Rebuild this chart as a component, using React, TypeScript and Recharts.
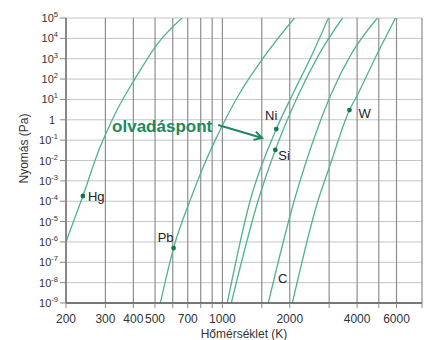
import React from 'react';
import {
  ComposedChart,
  Line,
  Scatter,
  XAxis,
  YAxis,
  CartesianGrid,
  ReferenceLine,
  ReferenceDot,
} from 'recharts';

// Temperature (K) and vapour pressure (Pa)
const hgT = [200, 238, 284, 302, 338, 406, 516, 660];
const hgP = [1e-6, 1.8e-4, 4.6e-2, 0.22, 3, 100, 5.9e3, 1e5];

const pbT = [528, 605, 718, 821, 929, 1200, 1523, 2098];
const pbP = [1e-9, 5e-7, 1.15e-4, 4.8e-3, 0.1, 22, 1.1e3, 1e5];

const niT = [1051, 1333, 1742, 2054, 2500, 2978];
const niP = [1e-9, 1.15e-4, 0.35, 16.6, 1.35e3, 1e5];

const siT = [1096, 1447, 1724, 2185, 2700, 3440];
const siP = [1e-9, 1.15e-4, 0.033, 16.6, 1.6e3, 1e5];

const cT = [1604, 2098, 2326, 2754, 3050, 3800, 4932];
const cP = [1e-9, 1.15e-4, 4.8e-3, 1, 16.6, 2e3, 1e5];

const wT = [2054, 2680, 3009, 3698, 4014, 4800, 5940];
const wP = [1e-9, 1.15e-4, 4.8e-3, 3, 16.6, 1e3, 1e5];

// Melting points (olvadáspont)
const meltNames = ['Hg', 'Pb', 'Ni', 'Si', 'W'];
const meltT = [238, 605, 1742, 1724, 3698];
const meltP = [1.8e-4, 5e-7, 0.35, 0.033, 3];

// Curve label without a dot
const cLabelT = 1774;
const cLabelP = 1e-8;

// Arrow annotation endpoints (data coordinates)
const arrowT = [958, 1506];
const arrowP = [0.556, 0.128];

const xTicks = [200, 300, 400, 500, 600, 700, 800, 900, 1000, 1500, 2000, 3000, 4000, 5000, 6000, 7800];
const xTickLabels = [200, 300, 400, 500, 700, 1000, 2000, 4000, 6000];
const yTicks = [1e-9, 1e-8, 1e-7, 1e-6, 1e-5, 1e-4, 1e-3, 1e-2, 1e-1, 1, 10, 100, 1e3, 1e4, 1e5];

const toData = (T: number[], P: number[]) => T.map((t, i) => ({ T: t, P: P[i] }));
const series = [
  { name: 'Hg', data: toData(hgT, hgP) },
  { name: 'Pb', data: toData(pbT, pbP) },
  { name: 'Ni', data: toData(niT, niP) },
  { name: 'Si', data: toData(siT, siP) },
  { name: 'C', data: toData(cT, cP) },
  { name: 'W', data: toData(wT, wP) },
];
const meltData = meltNames.map((n, i) => ({ name: n, T: meltT[i], P: meltP[i] }));

const FONT = '"Liberation Sans", Arial, Helvetica, sans-serif';
const CURVE = '#4fb488';
const DARK_GREEN = '#1b8a5c';
const DOT = '#0f7a4c';

const labelStyle: Record<string, { dx: number; dy: number; anchor: 'start' | 'end' }> = {
  Hg: { dx: 5, dy: 5, anchor: 'start' },
  Pb: { dx: 0, dy: -6, anchor: 'end' },
  Ni: { dx: 1, dy: -9, anchor: 'end' },
  Si: { dx: 3, dy: 10, anchor: 'start' },
  W: { dx: 9, dy: 8, anchor: 'start' },
};

const XTick = (props: any) => {
  const { x, y, payload } = props;
  if (!xTickLabels.includes(payload.value)) return <g />;
  return (
    <text x={x} y={y} dy={13} textAnchor="middle" fontSize={12} fill="#333" fontFamily={FONT}>
      {payload.value}
    </text>
  );
};

const YTick = (props: any) => {
  const { x, y, payload } = props;
  const e = Math.round(Math.log10(payload.value));
  if (e === 0) {
    return (
      <text x={x - 3} y={y} dy={4} textAnchor="end" fontSize={11} fill="#333" fontFamily={FONT}>
        1
      </text>
    );
  }
  return (
    <text x={x} y={y} dy={4} textAnchor="end" fontSize={11} fill="#333" fontFamily={FONT}>
      <tspan>10</tspan>
      <tspan dy={-5} fontSize={7.5}>{e}</tspan>
    </text>
  );
};

const MeltDot = (props: any) => {
  const { cx, cy, payload } = props;
  const s = labelStyle[payload.name];
  return (
    <g>
      <circle cx={cx} cy={cy} r={2.4} fill={DOT} />
      <text
        x={cx + s.dx}
        y={cy + s.dy}
        textAnchor={s.anchor}
        fontSize={13}
        fill="#222"
        fontFamily={FONT}
      >
        {payload.name}
      </text>
    </g>
  );
};

const ArrowShape = (props: any) => {
  const { x1, y1, x2, y2 } = props;
  if ([x1, y1, x2, y2].some((v) => v == null || isNaN(v))) return <g />;
  const ang = Math.atan2(y2 - y1, x2 - x1);
  const L = 9;
  const a = 0.5;
  const hx1 = x2 - L * Math.cos(ang - a);
  const hy1 = y2 - L * Math.sin(ang - a);
  const hx2 = x2 - L * Math.cos(ang + a);
  const hy2 = y2 - L * Math.sin(ang + a);
  return (
    <g>
      <line x1={x1} y1={y1} x2={x2} y2={y2} stroke={DARK_GREEN} strokeWidth={2} />
      <polyline
        points={`${hx1},${hy1} ${x2},${y2} ${hx2},${hy2}`}
        fill="none"
        stroke={DARK_GREEN}
        strokeWidth={2}
      />
      <text
        x={x1 - 6}
        y={y1 + 7}
        textAnchor="end"
        fontSize={17}
        fontWeight="bold"
        fill={DARK_GREEN}
        fontFamily={FONT}
      >
        olvadáspont
      </text>
    </g>
  );
};

const CLabel = (props: any) => {
  const { cx, cy } = props;
  return (
    <text x={cx} y={cy} textAnchor="start" fontSize={13} fill="#222" fontFamily={FONT}>
      C
    </text>
  );
};

const YLabel = (props: any) => {
  const vb = props.viewBox || { x: 0, y: 18, width: 66, height: 285 };
  const cx = vb.x + 24;
  const cy = vb.y + vb.height / 2 - 12;
  return (
    <text
      x={cx}
      y={cy}
      transform={`rotate(-90 ${cx} ${cy})`}
      textAnchor="middle"
      dominantBaseline="central"
      fontSize={12}
      fill="#333"
      fontFamily={FONT}
    >
      Nyomás (Pa)
    </text>
  );
};

export default function App() {
  return (
    <div style={{ position: 'absolute', left: 0, top: 0, width: 429, height: 340, background: '#fff' }}>
      <ComposedChart width={429} height={340} margin={{ top: 18, right: 7, left: 0, bottom: 0 }}>
        <CartesianGrid vertical={false} stroke="#c4c4c4" strokeWidth={1} />
        <CartesianGrid horizontal={false} stroke="#8e8e8e" strokeWidth={1.2} />
        <XAxis
          type="number"
          dataKey="T"
          scale="log"
          domain={[200, 7800]}
          allowDataOverflow
          ticks={xTicks}
          interval={0}
          tick={<XTick />}
          tickSize={5}
          tickLine={{ stroke: '#888' }}
          axisLine={{ stroke: '#555', strokeWidth: 1.3 }}
          height={37}
          label={{
            value: 'Hőmérséklet (K)',
            position: 'insideBottom',
            offset: 2,
            fontSize: 12,
            fill: '#333',
            fontFamily: FONT,
          }}
        />
        <YAxis
          type="number"
          dataKey="P"
          scale="log"
          domain={[1e-9, 1e5]}
          allowDataOverflow
          ticks={yTicks}
          interval={0}
          tick={<YTick />}
          tickSize={6}
          tickMargin={2}
          tickLine={{ stroke: '#888' }}
          axisLine={{ stroke: '#666', strokeWidth: 1.2 }}
          width={66}
          label={<YLabel />}
        />
        {series.map((s) => (
          <Line
            key={s.name}
            data={s.data}
            dataKey="P"
            type="monotone"
            stroke={CURVE}
            strokeWidth={1.3}
            dot={false}
            activeDot={false}
            isAnimationActive={false}
          />
        ))}
        <Scatter data={meltData} dataKey="P" shape={<MeltDot />} isAnimationActive={false} />
        <ReferenceLine
          segment={[
            { x: arrowT[0], y: arrowP[0] },
            { x: arrowT[1], y: arrowP[1] },
          ]}
          shape={<ArrowShape />}
        />
        <ReferenceDot x={cLabelT} y={cLabelP} r={0} shape={<CLabel />} />
      </ComposedChart>
    </div>
  );
}
